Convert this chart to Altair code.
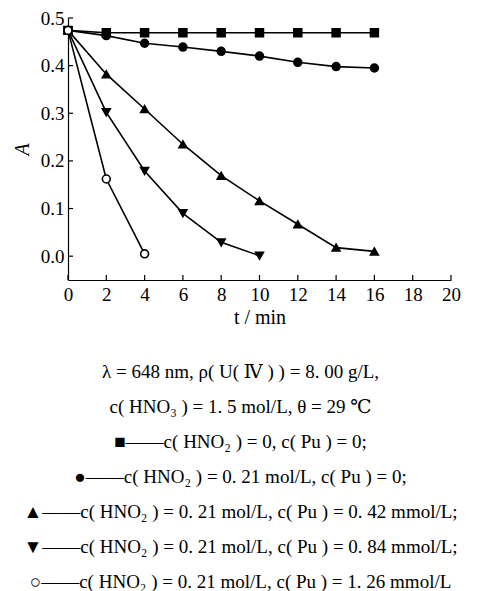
import altair as alt
import pandas as pd

# data
t_sq = [0, 2, 4, 6, 8, 10, 12, 14, 16]
a_sq = [0.474, 0.469, 0.469, 0.469, 0.469, 0.469, 0.469, 0.469, 0.469]
t_ci = [0, 2, 4, 6, 8, 10, 12, 14, 16]
a_ci = [0.474, 0.463, 0.447, 0.439, 0.430, 0.420, 0.407, 0.398, 0.395]
t_up = [0, 2, 4, 6, 8, 10, 12, 14, 16]
a_up = [0.474, 0.382, 0.309, 0.235, 0.169, 0.116, 0.067, 0.018, 0.010]
t_dn = [0, 2, 4, 6, 8, 10]
a_dn = [0.474, 0.302, 0.179, 0.090, 0.029, 0.001]
t_oc = [0, 2, 4]
a_oc = [0.474, 0.162, 0.005]

series = ["s1", "s2", "s3", "s4", "s5"]
shapes = ["square", "circle", "triangle-up", "triangle-down", "circle"]
fills = ["black", "black", "black", "black", "white"]

x_ticks = [0, 2, 4, 6, 8, 10, 12, 14, 16, 18, 20]
y_ticks = [0.0, 0.1, 0.2, 0.3, 0.4, 0.5]

caption = [
    "λ = 648 nm, ρ( U( Ⅳ ) ) = 8. 00 g/L,",
    "c( HNO₃ ) = 1. 5 mol/L, θ = 29 ℃",
    "■——c( HNO₂ ) = 0, c( Pu ) = 0;",
    "●——c( HNO₂ ) = 0. 21 mol/L, c( Pu ) = 0;",
    "▲——c( HNO₂ ) = 0. 21 mol/L, c( Pu ) = 0. 42 mmol/L;",
    "▼——c( HNO₂ ) = 0. 21 mol/L, c( Pu ) = 0. 84 mmol/L;",
    "○——c( HNO₂ ) = 0. 21 mol/L, c( Pu ) = 1. 26 mmol/L",
]

rows = []
for name, ts, vals in zip(series, [t_sq, t_ci, t_up, t_dn, t_oc], [a_sq, a_ci, a_up, a_dn, a_oc]):
    for t, a in zip(ts, vals):
        rows.append({"series": name, "t": t, "A": a})
df = pd.DataFrame(rows)

W, H = 383, 262
FONT = "'Liberation Serif', 'DejaVu Serif', serif"

xs = alt.Scale(domain=[0, 20], nice=False)
ys = alt.Scale(domain=[-0.05, 0.5], nice=False)

x_axis = alt.Axis(values=x_ticks, title="t / min", format="d",
                  labelFont=FONT, titleFont=FONT, labelFontSize=19, titleFontSize=20,
                  labelOverlap=False, labelFlush=False, ticks=False, grid=False,
                  labelPadding=5, titlePadding=3, labelColor="black", titleColor="black",
                  domainColor="black", domainWidth=1.2, titleFontWeight="normal")
y_axis = alt.Axis(values=y_ticks, title="A", format=".1f",
                  labelFont=FONT, titleFont=FONT, labelFontSize=19, titleFontSize=20,
                  titleFontStyle="italic", labelOverlap=False, labelFlush=False,
                  ticks=False, grid=False, labelPadding=4, titlePadding=8,
                  labelColor="black", titleColor="black",
                  domainColor="black", domainWidth=1.2, titleFontWeight="normal")

base = alt.Chart(df)

lines = base.mark_line(color="black", strokeWidth=1.6).encode(
    x=alt.X("t:Q", scale=xs, axis=x_axis),
    y=alt.Y("A:Q", scale=ys, axis=y_axis),
    detail="series:N",
)

points = base.mark_point(size=62, opacity=1, strokeWidth=1.6, stroke="black").encode(
    x=alt.X("t:Q", scale=xs, axis=x_axis),
    y=alt.Y("A:Q", scale=ys, axis=y_axis),
    shape=alt.Shape("series:N", scale=alt.Scale(domain=series, range=shapes), legend=None),
    fill=alt.Fill("series:N", scale=alt.Scale(domain=series, range=fills), legend=None),
)

xt = alt.Chart(pd.DataFrame({"v": x_ticks})).mark_rule(
    color="black", strokeWidth=1.2
).encode(x=alt.X("v:Q", scale=xs, axis=x_axis), y=alt.value(H), y2=alt.value(H - 5))

yt = alt.Chart(pd.DataFrame({"v": y_ticks})).mark_rule(
    color="black", strokeWidth=1.2
).encode(y=alt.Y("v:Q", scale=ys, axis=y_axis), x=alt.value(0), x2=alt.value(5))

chart = alt.layer(lines, points, xt, yt).properties(
    width=W, height=H,
    title=alt.TitleParams(
        text=caption, orient="bottom", anchor="middle", font=FONT,
        fontSize=19, fontWeight="normal", lineHeight=35, offset=36, dx=-19,
        color="black",
    ),
    autosize=alt.AutoSizeParams(type="none"),
    padding={"left": 60, "top": 10, "right": 13, "bottom": 311},
).configure(font=FONT).configure_view(stroke=None)

chart.save("out.html", embed_options={"renderer": "svg", "actions": False})
